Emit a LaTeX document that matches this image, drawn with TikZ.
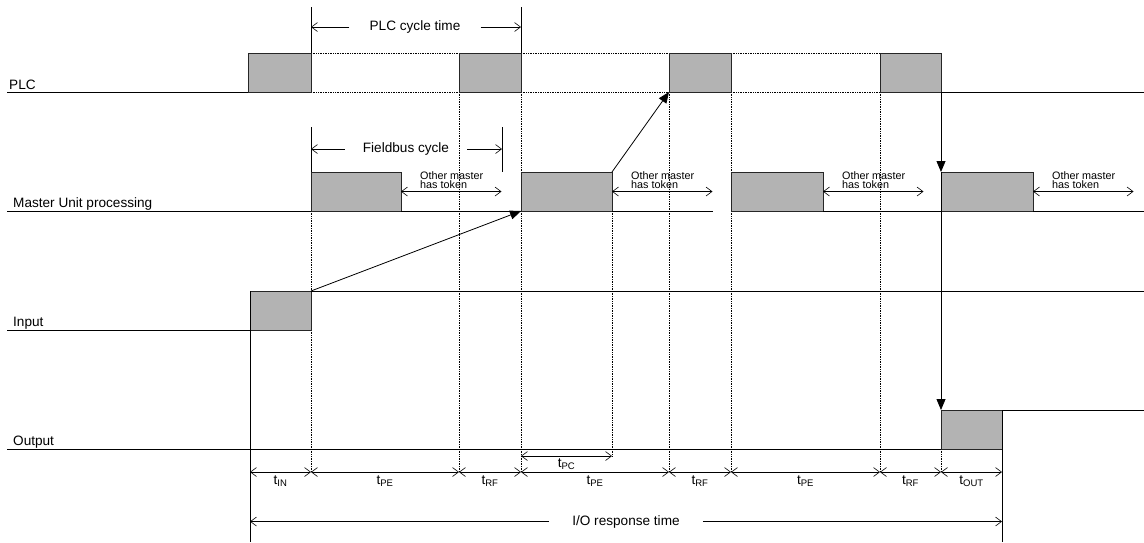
\documentclass[tikz,border=0pt]{standalone}
\usepackage{fontspec}
\setmainfont{Liberation Sans}
\usetikzlibrary{arrows.meta}
\definecolor{blkgray}{RGB}{179,179,179}

\begin{document}
\begin{tikzpicture}[x=1pt,y=-1pt,every node/.style={font=\fontsize{13.6}{16}\selectfont,inner sep=0pt},
 blk/.style={draw=black!85,fill=blkgray,line width=0.8pt,minimum height=39pt,anchor=south west,outer sep=0pt},
 sig/.style={line width=0.8pt},
 grid/.style={densely dotted,line width=0.7pt},
 dim/.style={line width=0.6pt,>={Straight Barb[length=6pt,width=9pt]},<->},
 dimr/.style={line width=0.6pt,>={Straight Barb[length=6pt,width=9pt]},->},
 flow/.style={line width=0.8pt,-{Triangle[length=11pt,width=9pt]}},
 small/.style={font=\fontsize{10.8}{8.7}\selectfont,align=left,anchor=north west}]
\useasboundingbox (0,0) rectangle (1144,542);
\foreach \a/\b in {311/459,521/669,731/880}{
 \draw[grid] (\a,53)--(\b,53);
 \draw[grid] (\a,92)--(\b,92);}
\foreach \x/\ya/\yb in {311/211/472,459/92/472,521/92/472,612/211/456,669/92/472,731/92/472,880/92/472,941/449/472}
 \draw[grid] (\x,\ya)--(\x,\yb);
\node[anchor=base west] (plc) at (9,89.5) {PLC};
\node[anchor=base west] (mup) at (13,207) {Master Unit processing};
\node[anchor=base west] (inp) at (13,326.5) {Input};
\node[anchor=base west] (outp) at (13,445) {Output};
\foreach \n/\a/\b in {p1/248/311,p2/459/521,p3/669/731,p4/880/941}
 \node[blk,minimum width=(\b-\a)*1pt] (\n) at (\a,92) {};
\foreach \n/\a/\b in {mu1/311/401,mu2/521/612,mu3/731/823,mu4/941/1033}
 \node[blk,minimum width=(\b-\a)*1pt] (\n) at (\a,211) {};
\node[blk,minimum width=61pt] (in) at (250,330) {};
\node[blk,minimum width=61pt] (out) at (941,449) {};
\draw[sig] (7,92)--(p1.south west);
\draw[sig] (p4.south east)--(1144,92);
\draw[sig] (7,211)--(mu1.south west) (mu1.south east)--(mu2.south west) (mu2.south east)--(713,211);
\draw[sig] (mu3.south east)--(mu4.south west) (mu4.south east)--(1144,211);
\draw[sig] (7,330)--(in.south west) (in.north east)--(1144,291);
\draw[sig] (7,449)--(out.south west) (out.north east)--(1144,410);
\draw[sig] (in.north west)--(250,542);
\draw[sig] (out.north east)--(1002,542);
\draw[sig] (p1.north east)--(311,7);
\draw[sig] (p2.north east)--(521,7);
\draw[sig] (mu1.north west)--(311,127);
\coordinate (fbtick) at (502,127);
\draw[sig] (fbtick)--(502,172);
\node[inner xsep=20pt] (pc) at (415,27) {PLC cycle time};
\draw[dimr] (pc.west)--(pc.west -| p1.east);
\draw[dimr] (pc.east)--(pc.east -| p2.east);
\node[inner xsep=18pt] (fb) at (406,149) {Fieldbus cycle};
\draw[dimr] (fb.west)--(fb.west -| mu1.west);
\draw[dimr] (fb.east)--(fb.east -| fbtick);
\foreach \n/\a in {1/401,2/612,3/823,4/1033}{
 \draw[dim] (mu\n.east)--++(100.5,0);
 \node[small] (om\n) at ({\a+19},171.5) {Other master\\has token};}
\draw[flow] (in.north east)--(mu2.south west);
\draw[flow] (mu2.north east)--(p3.south west);
\draw[flow] (p4.south east)--(mu4.north west);
\draw[flow] (mu4.north west)--(out.north west);
\foreach \n/\a/\b/\s in {1/250/311/IN,2/311/459/PE,3/459/521/RF,4/521/669/PE,5/669/731/RF,6/731/880/PE,7/880/941/RF,8/941/1002/OUT}{
 \draw[dim] (\a,472)--(\b,472);
 \node (t\n) at ({(\a+\b)/2},481) {t\textsubscript{\s}};}
\draw[dim] (521,456)--(612,456);
\node (tpc) at (566.5,464.5) {t\textsubscript{PC}};
\node[inner xsep=23pt] (io) at (626,521.5) {I/O response time};
\draw[dimr] (io.west)--(io.west -| in.west);
\draw[dimr] (io.east)--(io.east -| out.east);
\end{tikzpicture}
\end{document}
